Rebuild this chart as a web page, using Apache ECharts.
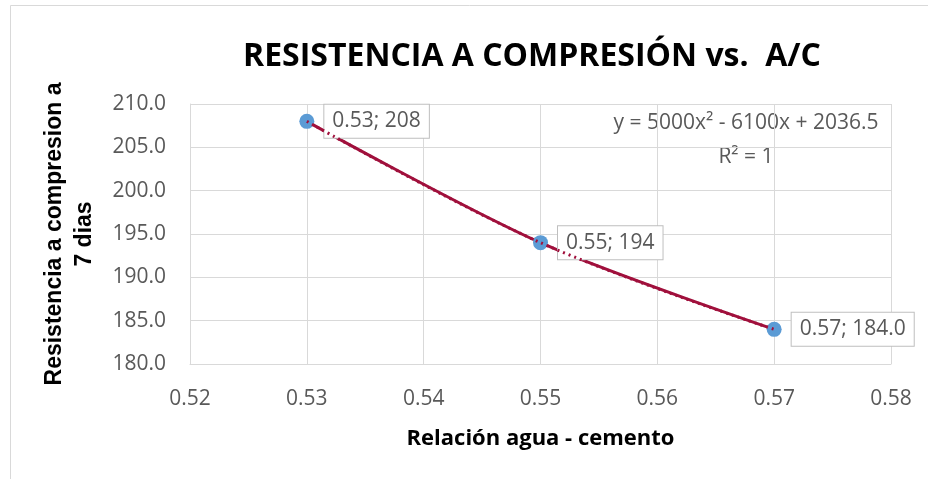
<!DOCTYPE html>
<html>
<head>
<meta charset="utf-8">
<script src="https://cdn.jsdelivr.net/npm/echarts@6/dist/echarts.min.js"></script>
<style>
  html, body { margin: 0; padding: 0; background: #fff; }
  #chart { width: 928px; height: 479px; }
</style>
</head>
<body>
<div id="chart"></div>
<script>
const ratios = [0.53, 0.55, 0.57];
const strength = [208, 194, 184];
const pointLabels = ["0.53; 208", "0.55; 194", "0.57; 184.0"];
const xTicks = { min: 0.52, max: 0.58, step: 0.01 };
const yTicks = { min: 180, max: 210, step: 5 };
const trendText = ["y = 5000x² - 6100x + 2036.5", "R² = 1"];

const el = document.getElementById("chart");
const chart = echarts.init(el);

const points = ratios.map((x, i) => [x, strength[i]]);
const labeled = points.map((p, i) => ({
  value: p,
  label: { formatter: pointLabels[i] },
}));

const gray = "#595959";
const gridColor = "#d9d9d9";
const lineColor = "#a0103c";

chart.setOption({
  animation: false,
  title: {
    text: "RESISTENCIA A COMPRESIÓN vs.  A/C",
    left: 527,
    top: 36,
    textAlign: "center",
    textStyle: { fontFamily: "Open Sans", fontWeight: "bold", fontSize: 32, color: "#000" },
  },
  grid: { left: 190, right: 37, top: 104, bottom: 115 },
  xAxis: {
    type: "value",
    min: xTicks.min,
    max: xTicks.max,
    interval: xTicks.step,
    name: "Relación agua - cemento",
    nameLocation: "middle",
    nameGap: 64,
    nameTextStyle: { fontFamily: "Open Sans", fontWeight: "bold", fontSize: 22, color: "#000" },
    axisLine: { show: true, lineStyle: { color: gridColor } },
    axisTick: { show: false },
    axisLabel: {
      fontFamily: "Open Sans", fontSize: 21, color: gray, margin: 25,
      formatter: (v) => v.toFixed(2),
    },
    splitLine: { show: true, lineStyle: { color: gridColor } },
  },
  yAxis: {
    type: "value",
    min: yTicks.min,
    max: yTicks.max,
    interval: yTicks.step,
    name: "Resistencia a compresion a\n7 dias",
    nameLocation: "middle",
    nameGap: 90,
    nameTextStyle: { fontFamily: "Liberation Sans", fontWeight: "bold", fontSize: 23, color: "#000", lineHeight: 30 },
    axisLine: { show: true, lineStyle: { color: gridColor } },
    axisTick: { show: false },
    axisLabel: {
      fontFamily: "Open Sans", fontSize: 21, color: gray, margin: 24,
      formatter: (v) => v.toFixed(1),
    },
    splitLine: { show: true, lineStyle: { color: gridColor } },
  },
  series: [
    {
      type: "line",
      data: labeled,
      smooth: 0.3,
      symbol: "circle",
      symbolSize: 15,
      showAllSymbol: true,
      itemStyle: { color: "#5b9bd5" },
      lineStyle: { color: lineColor, width: 3 },
      label: {
        show: true,
        position: "right",
        distance: 10,
        fontFamily: "Open Sans",
        fontSize: 21,
        color: gray,
        backgroundColor: "#fff",
        borderColor: "#bfbfbf",
        borderWidth: 1,
        padding: [7, 8, 5, 8],
      },
      z: 3,
    },
    {
      // polynomial trendline (dotted), drawn over the markers
      type: "line",
      data: points,
      smooth: 0.35,
      symbol: "none",
      lineStyle: { color: lineColor, width: 3, type: [2, 4] },
      z: 4,
    },
  ],
  graphic: [
    {
      type: "rect",
      shape: { x: 10.5, y: 5.5, width: 930, height: 490 },
      style: { fill: "none", stroke: "#d9d9d9", lineWidth: 1 },
      silent: true,
    },
    {
      type: "text",
      x: 746,
      y: 106,
      style: {
        text: trendText.join("\n"),
        align: "center",
        fontFamily: "Open Sans",
        fontSize: 21,
        lineHeight: 34,
        fill: gray,
      },
    },
  ],
});
</script>
</body>
</html>
